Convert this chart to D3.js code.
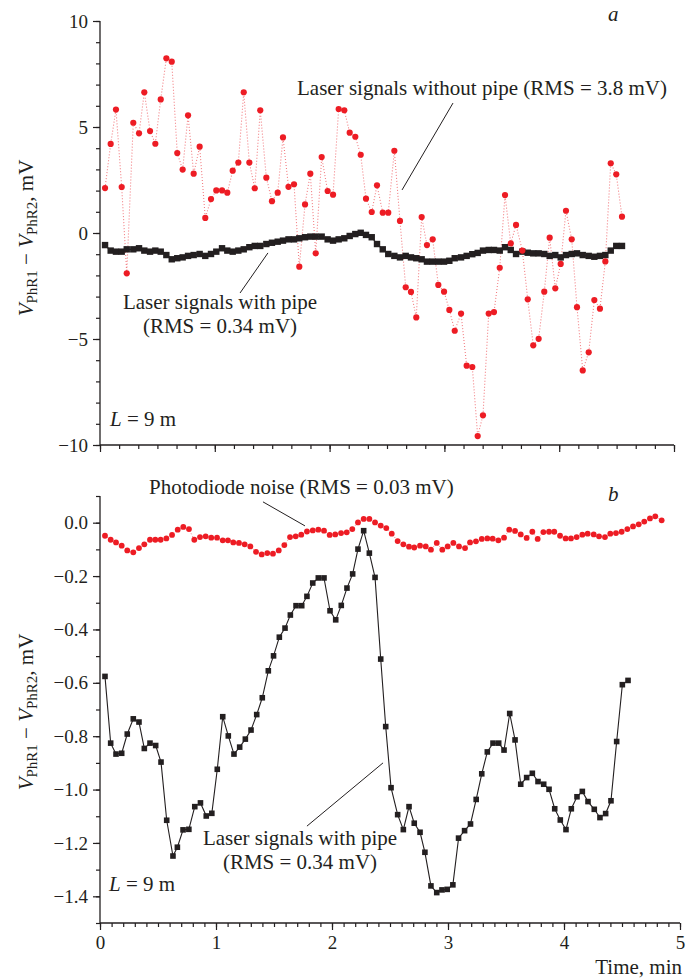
<!DOCTYPE html>
<html><head><meta charset="utf-8">
<script src="https://cdn.jsdelivr.net/npm/d3@7/dist/d3.min.js"></script>
<style>
html,body{margin:0;padding:0;background:#fff;}
svg text{font-family:"Liberation Serif","Tinos","Times New Roman","DejaVu Serif",serif !important;fill:#231f20;}
</style></head>
<body><svg id="c" width="687" height="978"></svg>
<script>
// ---------- DATA ----------
// Panel a: time (min)
const tTop = [0.044,0.093,0.139,0.189,0.233,0.290,0.340,0.386,0.436,0.482,0.529,0.578,0.625,0.673,0.720,0.767,0.816,0.868,0.917,0.967,
1.013,1.063,1.109,1.156,1.205,1.252,1.301,1.348,1.396,1.449,1.498,1.548,1.594,1.642,1.690,1.736,1.786,1.832,1.879,1.931,
1.983,2.030,2.079,2.128,2.175,2.224,2.271,2.317,2.367,2.413,2.463,2.511,2.564,2.613,2.663,2.709,2.755,2.802,2.848,2.898,
2.947,2.997,3.043,3.090,3.145,3.194,3.243,3.290,3.336,3.386,3.432,3.482,3.528,3.578,3.624,3.679,3.726,3.774,3.821,3.870,
3.917,3.966,4.013,4.059,4.109,4.155,4.205,4.257,4.306,4.355,4.402,4.449,4.497,4.547];
// Panel a: laser signals without pipe (mV)
const withoutPipeA = [2.12,4.2,5.82,2.17,-1.9,5.2,4.7,6.64,4.81,4.21,6.3,8.24,8.08,3.77,2.99,5.55,2.8,4.07,0.71,1.6,
2.01,2.01,1.9,2.94,3.32,6.64,3.32,2.11,5.79,2.61,1.5,1.9,4.51,2.18,2.3,-1.59,1.35,2.8,-0.96,3.58,
1.98,1.81,5.85,5.79,4.73,4.54,3.69,1.62,0.99,2.25,0.96,0.96,3.88,0.57,-2.56,-2.78,-3.98,0.75,-0.57,-0.3,
-2.45,-2.77,-3.63,-4.61,-3.8,-6.26,-6.32,-9.58,-8.6,-3.8,-3.73,-1.64,1.79,-0.49,0.38,-0.83,-3.13,-5.3,-4.99,-2.77,
-0.22,-2.61,-1.46,1.05,-0.3,-3.5,-6.48,-5.63,-3.16,-3.57,-1.34,3.29,2.77,0.77];
// Panel a: laser signals with pipe (mV)
const withPipeA = [-0.57,-0.83,-0.88,-0.88,-0.77,-0.77,-0.72,-0.83,-0.88,-0.83,-0.88,-1.04,-1.24,-1.19,-1.15,-1.08,-1.04,-0.99,-1.08,-0.99,
-0.88,-0.72,-0.83,-0.88,-0.83,-0.77,-0.67,-0.61,-0.61,-0.52,-0.46,-0.41,-0.36,-0.30,-0.30,-0.25,-0.20,-0.17,-0.17,-0.17,
-0.30,-0.36,-0.30,-0.25,-0.14,-0.05,0.01,-0.09,-0.20,-0.52,-0.77,-0.99,-1.08,-1.15,-1.08,-1.15,-1.19,-1.24,-1.35,-1.35,
-1.35,-1.35,-1.31,-1.19,-1.15,-1.08,-1.00,-0.94,-0.83,-0.80,-0.80,-0.83,-0.67,-0.80,-0.99,-0.88,-0.93,-0.96,-0.96,-0.99,
-1.08,-1.04,-1.15,-1.04,-0.99,-0.96,-1.04,-1.08,-1.12,-1.08,-1.04,-0.83,-0.61,-0.61];
// Panel b: laser signals with pipe
const tPipeB = [0.043,0.092,0.138,0.187,0.235,0.287,0.336,0.382,0.431,0.480,0.526,0.575,0.629,0.667,0.716,0.766,0.817,0.866,0.916,0.964,
1.011,1.058,1.106,1.155,1.204,1.253,1.302,1.351,1.399,1.451,1.496,1.546,1.595,1.641,1.690,1.739,1.784,1.834,1.882,1.931,
1.983,2.032,2.080,2.129,2.178,2.224,2.273,2.322,2.371,2.420,2.463,2.509,2.566,2.615,2.664,2.709,2.759,2.801,2.853,2.903,
2.948,2.993,3.042,3.091,3.143,3.194,3.243,3.291,3.339,3.388,3.437,3.483,3.532,3.578,3.627,3.678,3.727,3.776,3.825,3.871,
3.920,3.968,4.017,4.063,4.112,4.158,4.207,4.261,4.310,4.359,4.405,4.454,4.503,4.552];
const withPipeB = [-0.576,-0.826,-0.867,-0.864,-0.792,-0.735,-0.747,-0.846,-0.826,-0.835,-0.897,-1.115,-1.249,-1.216,-1.151,-1.149,-1.064,-1.050,-1.099,-1.089,
-0.924,-0.727,-0.799,-0.867,-0.841,-0.811,-0.777,-0.719,-0.656,-0.555,-0.499,-0.429,-0.395,-0.346,-0.311,-0.311,-0.276,-0.226,-0.207,-0.207,
-0.330,-0.364,-0.310,-0.245,-0.192,-0.099,-0.030,-0.114,-0.205,-0.511,-0.764,-0.993,-1.094,-1.150,-1.064,-1.126,-1.160,-1.235,-1.361,-1.386,
-1.376,-1.374,-1.357,-1.182,-1.154,-1.129,-1.037,-0.941,-0.859,-0.826,-0.826,-0.852,-0.715,-0.814,-0.980,-0.955,-0.939,-0.970,-0.980,-0.999,
-1.072,-1.114,-1.150,-1.072,-1.027,-1.007,-1.045,-1.074,-1.105,-1.090,-1.042,-0.820,-0.607,-0.591];
// Panel b: photodiode noise
const tNoiseB = [0.043,0.092,0.138,0.187,0.235,0.287,0.336,0.382,0.431,0.477,0.523,0.572,0.621,0.670,0.718,0.767,0.813,0.862,0.911,0.959,
1.009,1.058,1.103,1.149,1.198,1.247,1.296,1.345,1.394,1.442,1.491,1.541,1.589,1.638,1.687,1.735,1.784,1.834,1.882,1.931,
1.980,2.028,2.078,2.127,2.175,2.224,2.273,2.322,2.371,2.420,2.468,2.515,2.566,2.615,2.664,2.709,2.759,2.808,2.853,2.903,
2.951,2.997,3.046,3.095,3.147,3.190,3.241,3.291,3.339,3.385,3.434,3.483,3.528,3.578,3.627,3.678,3.727,3.773,3.822,3.871,
3.916,3.966,4.014,4.060,4.109,4.158,4.204,4.256,4.302,4.353,4.399,4.448,4.497,4.546,4.595,4.644,4.692,4.741,4.787,4.842];
const noiseB = [-0.049,-0.064,-0.074,-0.086,-0.104,-0.111,-0.095,-0.081,-0.064,-0.064,-0.064,-0.059,-0.046,-0.026,-0.016,-0.024,-0.064,-0.054,-0.051,-0.056,
-0.056,-0.066,-0.066,-0.074,-0.076,-0.081,-0.089,-0.109,-0.119,-0.114,-0.116,-0.104,-0.084,-0.054,-0.051,-0.045,-0.033,-0.029,-0.026,-0.030,
-0.046,-0.044,-0.039,-0.036,-0.024,0.001,0.014,0.014,0.001,-0.011,-0.020,-0.041,-0.069,-0.081,-0.090,-0.093,-0.086,-0.089,-0.101,-0.076,
-0.101,-0.089,-0.076,-0.089,-0.095,-0.074,-0.070,-0.061,-0.059,-0.060,-0.066,-0.056,-0.026,-0.031,-0.044,-0.057,-0.034,-0.061,-0.035,-0.034,
-0.034,-0.049,-0.059,-0.059,-0.054,-0.045,-0.041,-0.044,-0.051,-0.054,-0.041,-0.039,-0.034,-0.024,-0.014,-0.006,0.004,0.016,0.024,0.009];
// Tick labels
const xTickLabels = ["0","1","2","3","4","5"];
const yTicksA = [-10,-5,0,5,10];
const yTicksB = [0.0,-0.2,-0.4,-0.6,-0.8,-1.0,-1.2,-1.4];

// ---------- DRAWING ----------
const SERIF = '"Liberation Serif","Tinos","Times New Roman","DejaVu Serif",serif';
const svg = d3.select("#c");
const RED = "#ed1c24", BLACK = "#231f20";
const minus = s => s.replace("-", "\u2212");

const xA = d3.scaleLinear().domain([0,5]).range([100,674]);
const yA = d3.scaleLinear().domain([-10,10]).range([445,21]);
const xB = d3.scaleLinear().domain([0,5]).range([100,680]);
const yB = d3.scaleLinear().domain([-1.5,0.1]).range([923,496]);

function axes(x, y, xMinorStep, yMinorStep, yMajor, yFmt, xLabels) {
  const g = svg.append("g");
  const [y0] = y.range();
  const x0 = x.range()[0];
  g.append("g").attr("transform",`translate(${x0},0)`)
    .call(d3.axisLeft(y).tickValues(d3.range(y.domain()[0], y.domain()[1]+1e-9, yMinorStep)).tickSize(4).tickSizeOuter(0).tickFormat(""))
    .call(s=>s.select(".domain").remove());
  g.append("g").attr("transform",`translate(${x0},0)`)
    .call(d3.axisLeft(y).tickValues(yMajor).tickSize(7).tickSizeOuter(0).tickPadding(5).tickFormat(d=>minus(yFmt(d))))
    .call(s=>s.select(".domain").remove());
  g.append("g").attr("transform",`translate(0,${y0})`)
    .call(d3.axisBottom(x).tickValues(d3.range(0, 5+1e-9, xMinorStep)).tickSize(4).tickSizeOuter(0).tickFormat(""))
    .call(s=>s.select(".domain").remove());
  g.append("g").attr("transform",`translate(0,${y0})`)
    .call(d3.axisBottom(x).tickValues([0,1,2,3,4,5]).tickSize(7).tickSizeOuter(0).tickPadding(6)
      .tickFormat((d,i)=> xLabels ? xLabels[i] : ""))
    .call(s=>s.select(".domain").remove());
  g.selectAll("g").attr("font-family", SERIF).attr("font-size", 19);
  g.append("line").attr("x1",x0).attr("x2",x0).attr("y1",y.range()[1]).attr("y2",y0);
  g.append("line").attr("x1",x0).attr("x2",x.range()[1]).attr("y1",y0).attr("y2",y0);
  g.selectAll("line").attr("stroke",BLACK).attr("stroke-width",1.3);
  g.selectAll(".tick line").attr("stroke",BLACK).attr("stroke-width",1.2);
  g.selectAll(".tick text").attr("fill",BLACK).style("font-size","19px");
}

axes(xA, yA, 1/6, 1, yTicksA, d3.format("d"), null);
axes(xB, yB, 0.1, 0.1, yTicksB, d3.format(".1f"), xTickLabels);

// ---- panel a marks ----
const lineA = d3.line().x(d=>xA(d[0])).y(d=>yA(d[1]));
const redA = tTop.map((t,i)=>[t, withoutPipeA[i]]);
const blkA = tTop.map((t,i)=>[t, withPipeA[i]]);
svg.append("path").attr("d", lineA(redA)).attr("fill","none").attr("stroke","#f27c80").attr("stroke-width",1.1).attr("stroke-dasharray","1 2");
svg.append("path").attr("d", lineA(blkA)).attr("fill","none").attr("stroke",BLACK).attr("stroke-width",1.2);
svg.append("g").selectAll("rect").data(blkA).join("rect")
  .attr("x",d=>xA(d[0])-3.2).attr("y",d=>yA(d[1])-3.2).attr("width",6.4).attr("height",6.4).attr("fill",BLACK);
svg.append("g").selectAll("circle").data(redA).join("circle")
  .attr("cx",d=>xA(d[0])).attr("cy",d=>yA(d[1])).attr("r",3.1).attr("fill",RED);

// ---- panel b marks ----
const lineB = d3.line().x(d=>xB(d[0])).y(d=>yB(d[1]));
const redB = tNoiseB.map((t,i)=>[t, noiseB[i]]);
const blkB = tPipeB.map((t,i)=>[t, withPipeB[i]]);
svg.append("path").attr("d", lineB(redB)).attr("fill","none").attr("stroke","#f27c80").attr("stroke-width",1).attr("stroke-dasharray","1 2");
svg.append("path").attr("d", lineB(blkB)).attr("fill","none").attr("stroke",BLACK).attr("stroke-width",1.1);
svg.append("g").selectAll("rect").data(blkB).join("rect")
  .attr("x",d=>xB(d[0])-2.8).attr("y",d=>yB(d[1])-2.8).attr("width",5.6).attr("height",5.6).attr("fill",BLACK);
svg.append("g").selectAll("circle").data(redB).join("circle")
  .attr("cx",d=>xB(d[0])).attr("cy",d=>yB(d[1])).attr("r",2.9).attr("fill",RED);

// ---- annotations ----
const FS = 21;
function txt(x, y, s, opts={}) {
  const t = svg.append("text").attr("x",x).attr("y",y).attr("font-family",SERIF).style("font-size",(opts.fs||FS)+"px")
    .attr("text-anchor",opts.anchor||"start");
  if (opts.italic) t.style("font-style","italic");
  t.text(s);
  return t;
}
function leader(x1,y1,x2,y2){
  svg.append("line").attr("x1",x1).attr("y1",y1).attr("x2",x2).attr("y2",y2).attr("stroke",BLACK).attr("stroke-width",1);
}
txt(608, 21, "a", {italic:true});
txt(297, 95, "Laser signals without pipe (RMS = 3.8 mV)");
leader(xA(3.075), yA(6.13), xA(2.631), yA(2.03));
txt(220, 309, "Laser signals with pipe", {anchor:"middle"});
txt(220, 333, "(RMS = 0.34 mV)", {anchor:"middle"});
leader(xA(1.22), yA(-2.83), xA(1.463), yA(-0.94));
function Llabel(x,y){
  const t = svg.append("text").attr("x",x).attr("y",y).attr("font-family",SERIF).style("font-size",FS+"px");
  t.append("tspan").style("font-style","italic").text("L");
  t.append("tspan").text(" = 9 m");
}
Llabel(110, 426);
txt(608, 501, "b", {italic:true});
txt(149, 494, "Photodiode noise (RMS = 0.03 mV)");
leader(xB(1.405), yB(0.078), xB(1.767), yB(-0.012));
txt(300, 845, "Laser signals with pipe", {anchor:"middle"});
txt(300, 869, "(RMS = 0.34 mV)", {anchor:"middle"});
leader(xB(1.784), yB(-1.137), xB(2.44), yB(-0.9));
Llabel(109, 891);
txt(682, 974, "Time, min", {anchor:"end"});

function ytitle(cx, cy){
  const t = svg.append("text").attr("transform",`translate(${cx},${cy}) rotate(-90)`)
    .attr("font-family",SERIF).attr("text-anchor","middle").style("font-size","21px");
  t.append("tspan").style("font-style","italic").text("V");
  t.append("tspan").attr("dy",4).style("font-size","15px").text("PhR1");
  t.append("tspan").attr("dy",-4).text(" \u2212 ");
  t.append("tspan").style("font-style","italic").text("V");
  t.append("tspan").attr("dy",4).style("font-size","15px").text("PhR2");
  t.append("tspan").attr("dy",-4).text(", mV");
}
ytitle(33, 238);
ytitle(33, 712);
</script></body></html>
